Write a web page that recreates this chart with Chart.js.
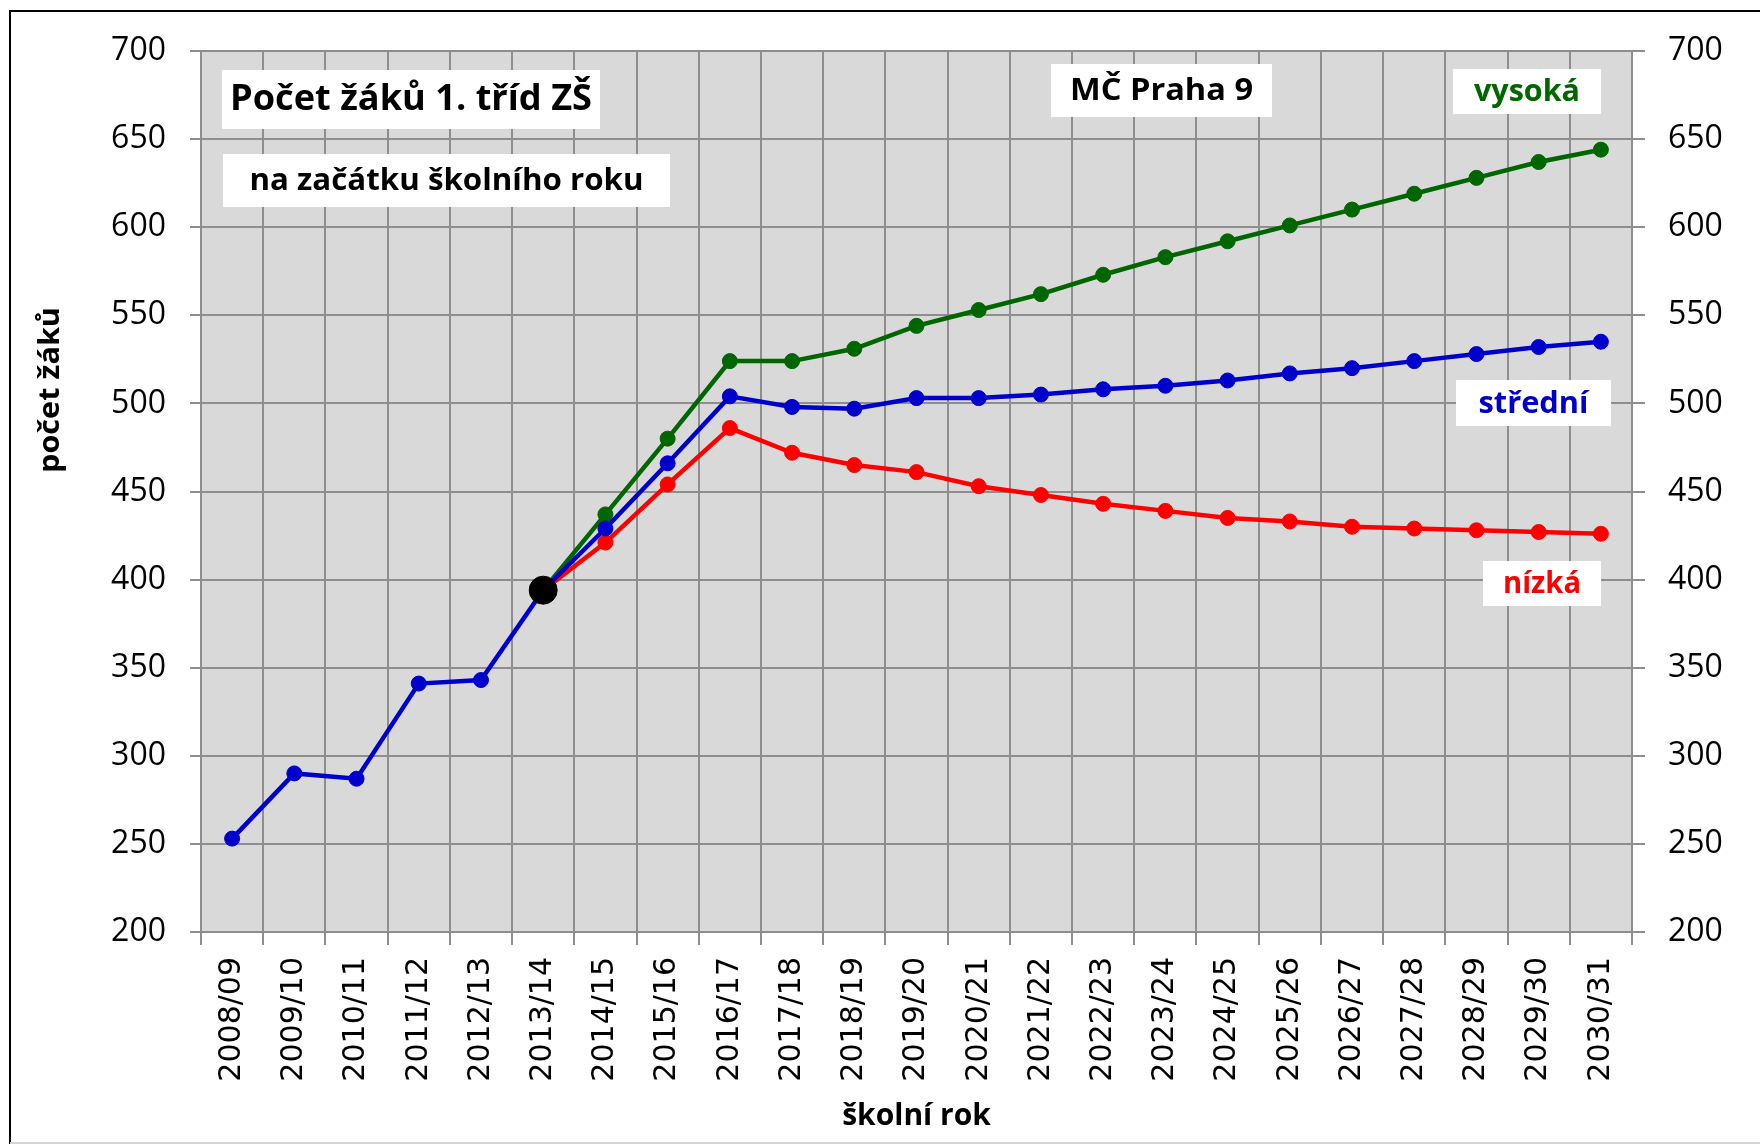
<!DOCTYPE html>
<html>
<head>
<meta charset="utf-8">
<title>Počet žáků 1. tříd ZŠ – MČ Praha 9</title>
<script src="https://cdn.jsdelivr.net/npm/chart.js@4.4.0/dist/chart.umd.min.js"></script>
<style>
  html, body { margin: 0; padding: 0; background: #fff; }
  canvas { display: block; }
</style>
</head>
<body>
<canvas id="zaciChart" width="1760" height="1144"></canvas>
<script>
// skolni roky na ose x
const skolniRoky = ['2008/09', '2009/10', '2010/11', '2011/12', '2012/13', '2013/14',
  '2014/15', '2015/16', '2016/17', '2017/18', '2018/19', '2019/20', '2020/21',
  '2021/22', '2022/23', '2023/24', '2024/25', '2025/26', '2026/27', '2027/28',
  '2028/29', '2029/30', '2030/31'];

// skutecnost 2008/09 - 2013/14
const skutecnost = [253, 290, 287, 341, 343, 394];

// prognoza 2014/15 - 2030/31
const vysoka  = [437, 480, 524, 524, 531, 544, 553, 562, 573, 583, 592, 601, 610, 619, 628, 637, 644];
const stredni = [429, 466, 504, 498, 497, 503, 503, 505, 508, 510, 513, 517, 520, 524, 528, 532, 535];
const nizka   = [421, 454, 486, 472, 465, 461, 453, 448, 443, 439, 435, 433, 430, 429, 428, 427, 426];

// popisky osy y
const osaYMin = 200;
const osaYMax = 700;
const osaYKrok = 50;

const posledni = skutecnost.length - 1;
const zacatek = skutecnost[posledni];
const mezera = new Array(posledni).fill(null);

const dataVysoka = [...mezera, zacatek, ...vysoka];
const dataStredni = [...skutecnost, ...stredni];
const dataNizka = [...mezera, zacatek, ...nizka];
const dataBod = skolniRoky.map((r, i) => i === posledni ? zacatek : null);

const seda = '#8e8e8e';
const pismo = '"Open Sans", "Noto Sans", sans-serif';

// bile ramecky s textem (pixely v platne)
const ramecky = [
  { text: 'Počet žáků 1. tříd ZŠ', barva: '#000', x: 222, y: 70, w: 378, h: 59, size: 35, sirka: 362 },
  { text: 'na začátku školního roku', barva: '#000', x: 223, y: 154, w: 447, h: 53, size: 30, sirka: 394 },
  { text: 'MČ Praha 9', barva: '#000', x: 1051, y: 64, w: 221, h: 53, size: 31, sirka: 183 },
  { text: 'vysoká', barva: '#006600', x: 1453, y: 69, w: 148, h: 45, size: 31, sirka: 106 },
  { text: 'střední', barva: '#0000cc', x: 1456, y: 380, w: 155, h: 46, size: 31, sirka: 110 },
  { text: 'nízká', barva: '#ff0000', x: 1483, y: 561, w: 118, h: 45, size: 31, sirka: 78 }
];

function napis(ctx, text, cx, cy, size, barva, sirka, uhel) {
  ctx.save();
  ctx.font = 'bold ' + size + 'px ' + pismo;
  const w = ctx.measureText(text).width;
  const sx = Math.min(1.15, sirka / w);
  ctx.translate(cx, cy);
  if (uhel) ctx.rotate(uhel);
  ctx.scale(sx, 1);
  ctx.textAlign = 'center';
  ctx.textBaseline = 'middle';
  ctx.fillStyle = barva;
  ctx.fillText(text, 0, 0);
  ctx.restore();
}

const pozadi = {
  id: 'pozadi',
  beforeDraw(chart) {
    const { ctx, chartArea } = chart;
    ctx.save();
    ctx.fillStyle = '#fff';
    ctx.fillRect(0, 0, chart.width, chart.height);
    ctx.fillStyle = '#d9d9d9';
    ctx.fillRect(chartArea.left, chartArea.top, chartArea.right - chartArea.left, chartArea.bottom - chartArea.top);
    ctx.restore();
  }
};

const popisky = {
  id: 'popisky',
  afterDraw(chart) {
    const ctx = chart.ctx;
    ramecky.forEach(r => {
      ctx.fillStyle = '#fff';
      ctx.fillRect(r.x, r.y, r.w, r.h);
      napis(ctx, r.text, r.x + r.w / 2, r.y + r.h / 2 + 1, r.size, r.barva, r.sirka);
    });
    // nazev osy y
    napis(ctx, 'počet žáků', 51, 390, 29, '#000', 166, -Math.PI / 2);
    // ramecek grafu
    ctx.save();
    ctx.strokeStyle = '#000';
    ctx.lineWidth = 2;
    ctx.beginPath();
    ctx.moveTo(10, chart.height);
    ctx.lineTo(10, 11);
    ctx.lineTo(chart.width, 11);
    ctx.stroke();
    ctx.strokeStyle = '#d4d4d4';
    ctx.beginPath();
    ctx.moveTo(10, chart.height - 1);
    ctx.lineTo(chart.width, chart.height - 1);
    ctx.stroke();
    ctx.restore();
  }
};

const ctx = document.getElementById('zaciChart').getContext('2d');
const graf = new Chart(ctx, {
  type: 'line',
  data: {
    labels: skolniRoky,
    datasets: [
      {
        label: 'skutečnost 2013/14',
        data: dataBod,
        showLine: false,
        pointRadius: 14,
        pointBackgroundColor: '#000',
        pointBorderColor: '#000',
        borderColor: '#000'
      },
      {
        label: 'střední',
        data: dataStredni,
        borderColor: '#0000cc',
        backgroundColor: '#0000cc',
        pointBackgroundColor: '#0000cc',
        pointBorderColor: '#0000cc'
      },
      {
        label: 'nízká',
        data: dataNizka,
        borderColor: '#ff0000',
        backgroundColor: '#ff0000',
        pointBackgroundColor: '#ff0000',
        pointBorderColor: '#ff0000'
      },
      {
        label: 'vysoká',
        data: dataVysoka,
        borderColor: '#006600',
        backgroundColor: '#006600',
        pointBackgroundColor: '#006600',
        pointBorderColor: '#006600'
      }
    ]
  },
  options: {
    responsive: false,
    animation: false,
    layout: { padding: { top: 51, left: 0, right: 0, bottom: 0 } },
    elements: {
      line: { borderWidth: 4.5, tension: 0 },
      point: { radius: 7.5, borderWidth: 1, hoverRadius: 7.5 }
    },
    plugins: {
      legend: { display: false },
      tooltip: { enabled: false }
    },
    scales: {
      x: {
        offset: true,
        grid: { offset: true, color: seda, lineWidth: 2, tickLength: 13 },
        border: { color: seda, width: 2 },
        ticks: {
          minRotation: 90, maxRotation: 90, padding: 12, autoSkip: false,
          color: '#000',
          font: { family: '"DejaVu Sans", sans-serif', size: 30 }
        },
        title: {
          display: true,
          text: 'školní rok',
          color: '#000',
          font: { family: pismo, size: 30, weight: 'bold' },
          padding: { top: 0, bottom: 10 }
        },
        afterFit(scale) { scale.height = 212; }
      },
      y: {
        min: osaYMin,
        max: osaYMax,
        grid: { color: seda, lineWidth: 2, tickLength: 11 },
        border: { color: seda, width: 2 },
        ticks: {
          stepSize: osaYKrok, padding: 24, color: '#000',
          font: { family: pismo, size: 32 }
        },
        afterFit(scale) { scale.width = 201; }
      },
      y2: {
        position: 'right',
        min: osaYMin,
        max: osaYMax,
        grid: { drawOnChartArea: false, color: seda, lineWidth: 2, tickLength: 13 },
        border: { color: seda, width: 2 },
        ticks: {
          stepSize: osaYKrok, padding: 23, color: '#000',
          font: { family: pismo, size: 32 }
        },
        afterFit(scale) { scale.width = 128; }
      }
    }
  },
  plugins: [pozadi, popisky]
});
</script>
</body>
</html>
